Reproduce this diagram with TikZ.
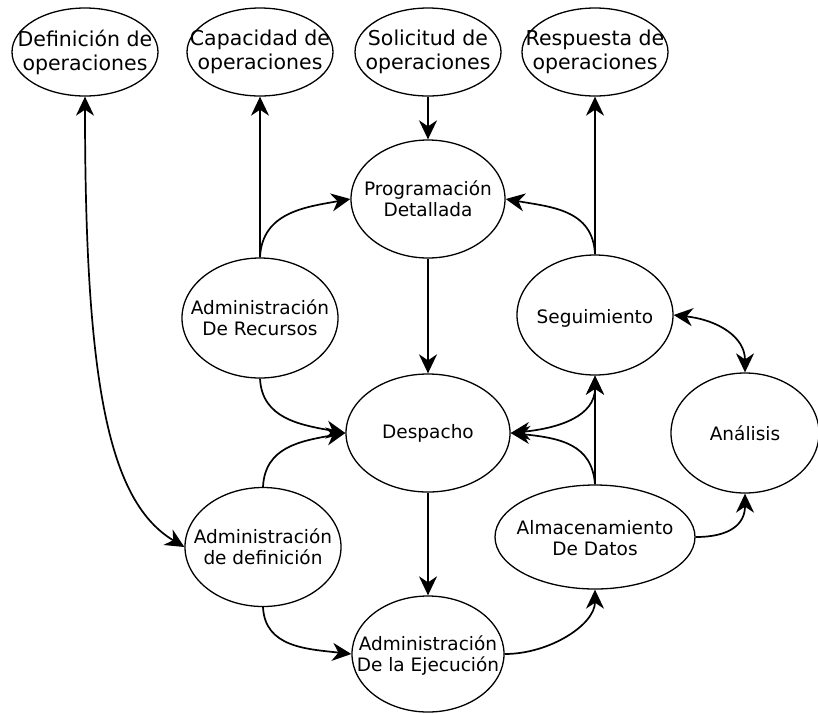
\documentclass[tikz,border=0pt]{standalone}
\usepackage{fontspec}
\setmainfont{DejaVu Sans}
\usetikzlibrary{shapes.geometric,arrows.meta}
\begin{document}
\begin{tikzpicture}[x=1pt,y=-1pt,
  bubble/.style={ellipse,draw,line width=1.3pt,inner sep=0pt},
  lbl/.style={align=center,font=\fontsize{18.5}{21}\selectfont,inner sep=0pt},
  toplbl/.style={align=center,font=\fontsize{20.5}{24}\selectfont,inner sep=0pt},
  tip/.tip={Stealth[length=19pt,width=18pt,inset=6pt]},
  flow/.style={line width=1.7pt,-tip},
  both/.style={line width=1.7pt,tip-tip}
]
\useasboundingbox (0,0) rectangle (818,713);

% upper row of operation bubbles
\node[bubble,minimum width=146pt,minimum height=88pt] (def)  at (85,52)  {};
\node[bubble,minimum width=146pt,minimum height=88pt] (cap)  at (260,52) {};
\node[bubble,minimum width=146pt,minimum height=88pt] (sol)  at (428,52) {};
\node[bubble,minimum width=146pt,minimum height=88pt] (resp) at (595,52) {};
\node[toplbl] (def-t)  at (def)  {Definición de\\operaciones};
\node[toplbl] (cap-t)  at (cap)  {Capacidad de\\operaciones};
\node[toplbl] (sol-t)  at (sol)  {Solicitud de\\operaciones};
\node[toplbl] (resp-t) at (resp) {Respuesta de\\operaciones};

% activity bubbles
\node[bubble,minimum width=154pt,minimum height=118pt] (prog) at (428,199) {};
\node[bubble,minimum width=156pt,minimum height=120pt] (rec)  at (260,318) {};
\node[bubble,minimum width=156pt,minimum height=120pt] (seg)  at (595,315) {};
\node[bubble,minimum width=148pt,minimum height=120pt] (ana)  at (745,433) {};
\node[bubble,minimum width=164pt,minimum height=118pt] (desp) at (428,433) {};
\node[bubble,minimum width=156pt,minimum height=119pt] (adef) at (263,547) {};
\node[bubble,minimum width=200pt,minimum height=104pt] (alm)  at (595,537) {};
\node[bubble,minimum width=152pt,minimum height=116pt] (exe)  at (428,654) {};

\node[lbl] (prog-t) at (prog) {Programación\\Detallada};
\node[lbl] (rec-t)  at (rec)  {Administración\\De Recursos};
\node[lbl] (seg-t)  at ([yshift=-3pt]seg.center) {Seguimiento};
\node[lbl] (ana-t)  at (ana)  {Análisis};
\node[lbl] (desp-t) at (desp) {Despacho};
\node[lbl] (adef-t) at (adef) {Administración\\de definición};
\node[lbl] (alm-t)  at ([yshift=-1pt]alm.center)  {Almacenamiento\\De Datos};
\node[lbl] (exe-t)  at ([yshift=-2pt]exe.center)  {Administración\\De la Ejecución};

% straight flows
\draw[flow] (rec.north) -- (cap.south);
\draw[flow] (sol.south) -- (prog.north);
\draw[flow] (prog.south) -- (desp.north);
\draw[flow] (seg.north) -- (resp.south);
\draw[flow] (alm.north) -- (seg.south);
\draw[flow] (desp.south) -- (exe.north);

% curved flows
\draw[both] (def.south) .. controls +(0,290) and +(-75,-45) .. (adef.west);
\draw[flow] (rec.north) .. controls +(2,-45) and +(-45,8) .. (prog.west);
\draw[flow] (seg.north) .. controls +(-2,-45) and +(45,8) .. (prog.east);
\draw[both] (seg.east) .. controls +(45,5) and +(0,-35) .. (ana.north);
\draw[flow] (rec.south) .. controls +(2,40) and +(-45,-8) .. (desp.west);
\draw[flow] (adef.north) .. controls +(2,-40) and +(-45,8) .. (desp.west);
\draw[both] (desp.east) .. controls +(50,-5) and +(0,40) .. (seg.south);
\draw[flow] (alm.north) .. controls +(-3,-40) and +(50,5) .. (desp.east);
\draw[flow] (adef.south) .. controls +(2,40) and +(-45,-5) .. (exe.west);
\draw[flow] (exe.east) .. controls +(45,0) and +(0,35) .. (alm.south);
\draw[flow] (alm.east) .. controls +(35,0) and +(0,30) .. (ana.south);
\end{tikzpicture}
\end{document}
